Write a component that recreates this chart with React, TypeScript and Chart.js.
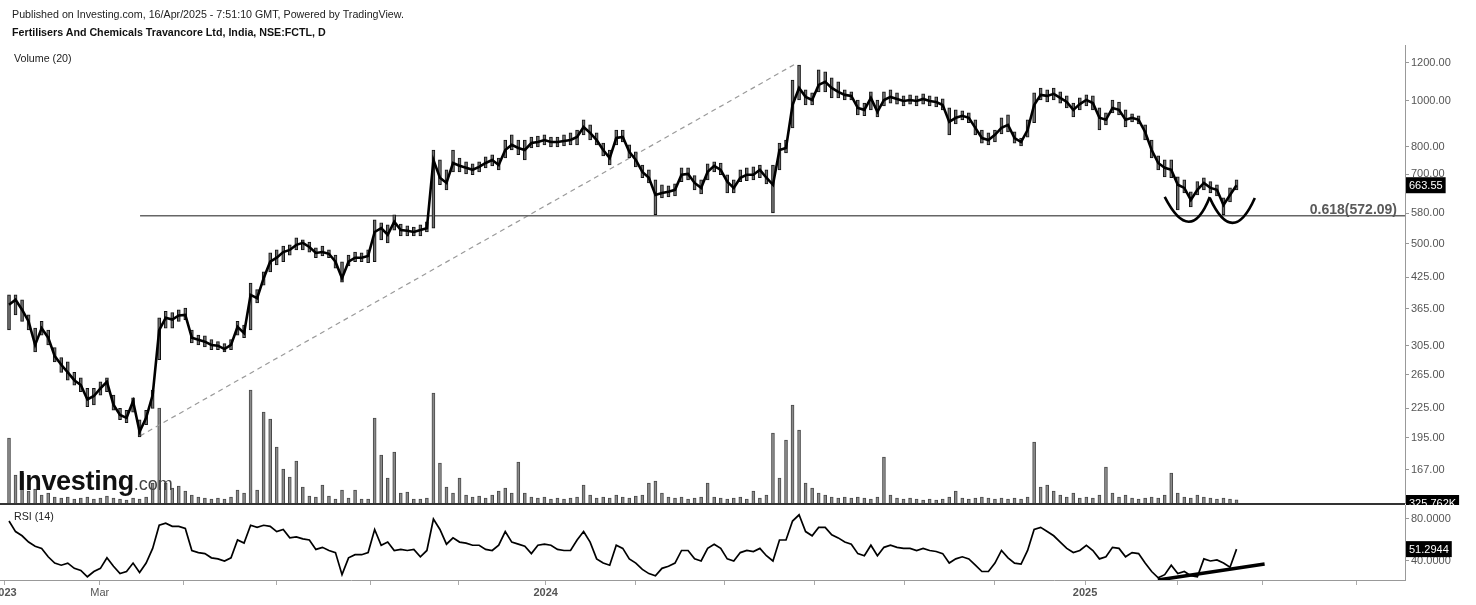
import React, { useEffect, useRef } from "react";
import { Chart, registerables } from "chart.js";

Chart.register(...registerables);

// ---------------- DATA (one sample = 3 trading days, Jan 2023 -> 16 Apr 2025) ----------------
const closes = [
  372, 381, 363, 343, 306, 332, 317, 290, 278, 268,
  258, 252, 235, 239, 248, 256, 229, 218, 215, 233,
  201, 215, 240, 329, 349, 346, 353, 354, 317, 314,
  311, 306, 305, 300, 306, 334, 324, 390, 384, 423,
  458, 467, 480, 485, 497, 502, 492, 478, 480, 476,
  458, 423, 458, 467, 467, 471, 529, 539, 522, 556,
  534, 532, 529, 534, 539, 750, 688, 671, 739, 729,
  722, 715, 725, 739, 750, 732, 787, 807, 795, 787,
  814, 818, 826, 818, 818, 822, 826, 838, 880, 855,
  826, 787, 757, 834, 838, 780, 750, 708, 688, 633,
  639, 643, 649, 698, 701, 671, 655, 708, 729, 715,
  675, 655, 688, 698, 698, 715, 688, 665, 787, 795,
  979, 1063, 1018, 1003, 1079, 1095, 1063, 1043, 1028, 1023,
  965, 956, 1013, 947, 1003, 1018, 1008, 998, 1003, 998,
  1008, 998, 993, 979, 902, 920, 929, 920, 876, 834,
  826, 847, 876, 889, 834, 818, 867, 979, 1028, 1023,
  1033, 1013, 993, 956, 983, 1003, 988, 920, 911, 965,
  956, 911, 920, 911, 859, 787, 739, 722, 715, 665,
  655, 618, 649, 671, 655, 649, 603, 633, 663.55,
];

const highs = [
  390, 390, 381, 354, 332, 343, 329, 302, 288, 282,
  268, 261, 248, 248, 256, 261, 240, 225, 223, 237,
  213, 223, 246, 349, 360, 358, 363, 366, 329, 321,
  320, 314, 311, 308, 314, 343, 337, 413, 400, 436,
  478, 485, 494, 497, 514, 509, 504, 490, 494, 485,
  473, 458, 473, 480, 478, 485, 561, 553, 548, 575,
  550, 545, 542, 548, 556, 787, 750, 715, 787, 757,
  743, 736, 743, 761, 769, 757, 826, 847, 826, 826,
  838, 842, 847, 838, 838, 847, 855, 867, 911, 889,
  855, 814, 787, 867, 867, 807, 780, 732, 715, 681,
  665, 662, 668, 722, 722, 695, 681, 736, 743, 739,
  698, 681, 715, 722, 725, 732, 715, 732, 814, 826,
  1105, 1188, 1053, 1038, 1160, 1149, 1116, 1095, 1053, 1043,
  1003, 988, 1043, 1003, 1043, 1053, 1038, 1023, 1028, 1023,
  1033, 1023, 1018, 1008, 965, 956, 951, 942, 911, 867,
  855, 867, 920, 933, 859, 834, 911, 1038, 1063, 1053,
  1063, 1043, 1023, 988, 1013, 1028, 1023, 965, 942, 1003,
  993, 956, 938, 929, 889, 826, 765, 750, 750, 691,
  681, 643, 675, 688, 675, 665, 624, 655, 681,
];

const lows = [
  329, 354, 343, 329, 296, 321, 306, 282, 268, 258,
  252, 244, 227, 229, 240, 244, 223, 213, 210, 221,
  196, 208, 225, 285, 332, 332, 343, 346, 309, 306,
  303, 299, 299, 296, 299, 321, 317, 329, 375, 409,
  436, 451, 458, 473, 485, 485, 480, 467, 471, 467,
  444, 415, 449, 458, 458, 456, 458, 509, 502, 534,
  519, 519, 519, 519, 529, 539, 665, 649, 708, 708,
  701, 698, 708, 722, 729, 715, 757, 787, 769, 750,
  795, 799, 807, 799, 799, 803, 807, 807, 847, 826,
  807, 765, 732, 807, 818, 757, 725, 688, 671, 575,
  624, 627, 630, 675, 681, 649, 636, 681, 708, 698,
  639, 639, 675, 678, 681, 688, 668, 580, 715, 776,
  876, 1003, 979, 979, 1043, 1043, 1013, 1013, 1003, 1003,
  933, 929, 956, 924, 974, 988, 983, 974, 983, 974,
  983, 974, 970, 956, 847, 893, 911, 898, 847, 814,
  807, 818, 851, 859, 814, 803, 838, 898, 1003, 993,
  1003, 988, 965, 924, 956, 974, 956, 867, 889, 942,
  933, 880, 902, 893, 826, 757, 715, 691, 688, 589,
  639, 597, 633, 649, 639, 630, 575, 612, 649,
];

// volume in millions of shares
const volumesM = [
  6.5, 2.8, 3.0, 1.2, 1.4, 0.8, 1.0, 0.6, 0.5, 0.6,
  0.4, 0.5, 0.6, 0.4, 0.5, 0.7, 0.5, 0.4, 0.3, 0.5,
  0.4, 0.6, 2.0, 9.5, 2.0, 1.5, 1.7, 1.2, 0.8, 0.6,
  0.5, 0.4, 0.5, 0.4, 0.6, 1.3, 1.0, 11.3, 1.3, 9.1,
  8.4, 5.6, 3.4, 2.6, 4.2, 1.6, 0.7, 0.6, 1.8, 0.7,
  0.4, 1.3, 0.5, 1.3, 0.4, 0.4, 8.5, 4.8, 2.5, 5.1,
  1.0, 1.1, 0.4, 0.4, 0.5, 11.0, 4.0, 1.6, 1.0, 2.5,
  0.8, 0.6, 0.7, 0.5, 0.8, 1.2, 1.5, 1.0, 4.1, 1.0,
  0.6, 0.5, 0.6, 0.4, 0.5, 0.4, 0.5, 0.6, 1.8, 0.8,
  0.5, 0.6, 0.5, 0.8, 0.6, 0.5, 0.7, 0.8, 2.0, 2.2,
  1.0, 0.6, 0.5, 0.6, 0.4, 0.5, 0.6, 2.0, 0.6, 0.5,
  0.4, 0.5, 0.6, 0.4, 1.2, 0.5, 0.8, 7.0, 2.5, 6.3,
  9.8, 7.3, 2.0, 1.5, 1.0, 0.8, 0.6, 0.5, 0.6, 0.5,
  0.6, 0.5, 0.4, 0.6, 4.6, 0.8, 0.5, 0.4, 0.5, 0.4,
  0.3, 0.4, 0.3, 0.4, 0.6, 1.2, 0.5, 0.4, 0.5, 0.6,
  0.5, 0.4, 0.5, 0.4, 0.5, 0.4, 0.6, 6.1, 1.6, 1.8,
  1.2, 0.8, 0.6, 1.0, 0.5, 0.6, 0.5, 0.8, 3.6, 1.0,
  0.6, 0.8, 0.5, 0.4, 0.5, 0.6, 0.5, 0.8, 3.0, 1.0,
  0.6, 0.5, 0.8, 0.6, 0.5, 0.4, 0.5, 0.4, 0.326,
];

const rsi = [
  78, 68, 64, 58, 54, 52, 44, 38, 36, 38,
  33, 31, 25, 30, 33, 43, 35, 28, 30, 38,
  29, 38, 52, 74, 76, 73, 73, 71, 50, 48,
  47, 43, 42, 40, 43, 60, 57, 74, 72, 74,
  73, 68, 70, 62, 63, 61, 60, 51, 53, 50,
  48, 27, 43, 46, 46, 48, 70, 55, 58, 50,
  51, 50, 51, 44, 50, 80, 70, 56, 62, 58,
  57, 55, 55, 51, 50, 55, 68, 58, 56, 54,
  47, 55, 56, 55, 51, 50, 50, 60, 68, 58,
  42, 38, 36, 55, 52, 42, 38, 32, 28, 26,
  33, 35, 38, 50, 50, 42, 40, 52, 56, 52,
  42, 40, 48, 50, 49, 52, 45, 40, 60, 60,
  78, 84, 68, 64, 72, 72, 65, 62, 58, 56,
  47, 45, 55, 45, 53, 55, 53, 52, 52, 50,
  52, 50, 49, 47, 38, 42, 44, 42, 36, 30,
  30, 38, 50, 43, 38, 37, 50, 70, 72, 68,
  64, 58, 52, 48, 50, 55, 50, 42, 44, 53,
  52, 44, 48, 47, 38, 30, 24, 27, 36, 28,
  30, 26, 25, 42, 40, 41, 38, 34, 51.2944,
];

// time axis (positions in sample units)
const xTickPositions = [-0.7, 13.9, 26.8, 41.0, 55.4, 68.8, 82.2, 95.9, 109.6, 123.4, 137.2, 151.0, 164.8, 178.9, 191.9, 206.3];
const xTickLabels = ["2023", "Mar", "", "", "", "", "2024", "", "", "", "", "", "2025", "", "", ""];
const X_MIN = -1.38;
const X_MAX = 213.8;

const priceTicks = [167, 195, 225, 265, 305, 365, 425, 500, 580, 700, 800, 1000, 1200];
const PRICE_MIN = 142.3;
const PRICE_MAX = 1309;
const VOL_MAX = 45.8;
const rsiTicks = [40, 80];
const RSI_MIN = 21.9;
const RSI_MAX = 93.3;

// drawings
const fibLevel = 572.09;
const fibLabel = "0.618(572.09)";
const fibStartX = 20.07;
const trendStart = { x: 20.07, y: 197 };
const trendEnd = { x: 120.7, y: 1200 };
const smileStartX = [177.0, 183.9];
const smileEndX = [183.9, 190.8];
const smileMidX = [180.9, 187.4];
const smileEdgePrice = [627, 624];
const smileBottomPrice = [556, 553];
const rsiTrendStart = { x: 175.95, y: 21.9 };
const rsiTrendEnd = { x: 192.3, y: 37.1 };
const lastVolumeText = "325.762K";

const FONT = '"Liberation Sans", Arial, sans-serif';
const AXIS_W = 71;

function tagBox(ctx: CanvasRenderingContext2D, x: number, y: number, text: string) {
  ctx.save();
  ctx.font = `11px ${FONT}`;
  const w = ctx.measureText(text).width + 6;
  ctx.fillStyle = "#000";
  ctx.fillRect(x, y - 8, w, 16);
  ctx.fillStyle = "#fff";
  ctx.textBaseline = "middle";
  ctx.textAlign = "left";
  ctx.fillText(text, x + 3, y + 0.5);
  ctx.restore();
}

export default function App() {
  const refA = useRef<HTMLCanvasElement>(null);
  const refB = useRef<HTMLCanvasElement>(null);

  useEffect(() => {
    const idx = closes.map((_, i) => i);

    const pricePlugin = {
      id: "priceDrawings",
      afterDatasetsDraw(chart: any) {
        const { ctx, scales, chartArea } = chart;
        const x = scales.x;
        const y = scales.y;
        ctx.save();
        const fy = y.getPixelForValue(fibLevel);
        ctx.font = `bold 14px ${FONT}`;
        ctx.fillStyle = "#5a5a5a";
        ctx.textAlign = "right";
        ctx.textBaseline = "alphabetic";
        ctx.fillText(fibLabel, chartArea.right - 8, fy - 2);
        ctx.strokeStyle = "#000";
        ctx.lineWidth = 2.6;
        for (let k = 0; k < smileStartX.length; k++) {
          const x0 = x.getPixelForValue(smileStartX[k]);
          const x2 = x.getPixelForValue(smileEndX[k]);
          const xm = x.getPixelForValue(smileMidX[k]);
          const ye = y.getPixelForValue(smileEdgePrice[k]);
          const yb = y.getPixelForValue(smileBottomPrice[k]);
          const cy = 2 * yb - ye;
          ctx.beginPath();
          ctx.moveTo(x0, ye);
          ctx.quadraticCurveTo(xm, cy, x2, ye);
          ctx.stroke();
        }
        ctx.restore();
      },
      afterDraw(chart: any) {
        const { ctx, scales, chartArea } = chart;
        ctx.save();
        ctx.fillStyle = "#333";
        ctx.fillRect(0, chartArea.bottom, chartArea.right, 2);
        ctx.restore();
        tagBox(ctx, chartArea.right + 1, scales.y.getPixelForValue(closes[closes.length - 1]), closes[closes.length - 1].toFixed(2));
        tagBox(ctx, chartArea.right + 1, chartArea.bottom, lastVolumeText);
      },
    };

    const a = new Chart(refA.current as HTMLCanvasElement, {
      type: "bar",
      data: {
        datasets: [
          {
            type: "bar",
            label: "Volume",
            data: volumesM.map((v, i) => ({ x: idx[i], y: v })),
            yAxisID: "yv",
            backgroundColor: "#8a8a8a",
            borderColor: "#4a4a4a",
            borderWidth: 1,
            barThickness: 3,
            grouped: false,
            order: 6,
          } as any,
          {
            type: "line",
            label: "Trend",
            data: [trendStart, trendEnd],
            yAxisID: "y",
            borderColor: "#9a9a9a",
            borderDash: [5, 4],
            borderWidth: 1.2,
            pointRadius: 0,
            order: 5,
          },
          {
            type: "line",
            label: "Fib 0.618",
            data: [
              { x: fibStartX, y: fibLevel },
              { x: X_MAX, y: fibLevel },
            ],
            yAxisID: "y",
            borderColor: "#666",
            borderWidth: 1.5,
            pointRadius: 0,
            order: 4,
          },
          {
            type: "bar",
            label: "Range",
            data: lows.map((l, i) => ({ x: idx[i], y: [l, highs[i]] })),
            yAxisID: "y",
            backgroundColor: "#6e6e6e",
            borderColor: "#111",
            borderWidth: { left: 1, right: 1, top: 1, bottom: 1 },
            borderSkipped: false,
            barThickness: 3,
            grouped: false,
            order: 3,
          } as any,
          {
            type: "line",
            label: "Close",
            data: closes.map((c, i) => ({ x: idx[i], y: c })),
            yAxisID: "y",
            borderColor: "#000",
            borderWidth: 2.6,
            pointRadius: 0,
            tension: 0,
            order: 1,
          },
        ],
      },
      options: {
        responsive: false,
        animation: false,
        events: [],
        layout: { padding: { top: 45, bottom: 2, left: 0, right: 0 } },
        plugins: { legend: { display: false }, tooltip: { enabled: false } },
        scales: {
          x: { type: "linear", min: X_MIN, max: X_MAX, display: false, offset: false },
          y: {
            type: "logarithmic",
            position: "right",
            min: PRICE_MIN,
            max: PRICE_MAX,
            afterBuildTicks: (s: any) => {
              s.ticks = priceTicks.map((v) => ({ value: v }));
            },
            afterFit: (s: any) => {
              s.width = AXIS_W;
              s.paddingTop = 0;
              s.paddingBottom = 0;
            },
            ticks: {
              autoSkip: false,
              padding: 2,
              color: "#555",
              font: { size: 11, family: FONT },
              callback: (v: any) => Number(v).toFixed(2),
            },
            grid: { drawOnChartArea: false, drawTicks: true, tickLength: 4, color: "#999" },
            border: { display: true, color: "#999" },
          },
          yv: { type: "linear", min: 0, max: VOL_MAX, display: false },
        },
      } as any,
      plugins: [pricePlugin],
    });

    const rsiPlugin = {
      id: "rsiDrawings",
      afterDraw(chart: any) {
        const { ctx, scales, chartArea } = chart;
        tagBox(ctx, chartArea.right + 1, scales.y.getPixelForValue(rsi[rsi.length - 1]), rsi[rsi.length - 1].toFixed(4));
      },
    };

    const b = new Chart(refB.current as HTMLCanvasElement, {
      type: "line",
      data: {
        datasets: [
          {
            label: "RSI (14)",
            data: rsi.map((v, i) => ({ x: idx[i], y: v })),
            borderColor: "#000",
            borderWidth: 1.7,
            pointRadius: 0,
            tension: 0,
            order: 2,
          },
          {
            label: "RSI trend",
            data: [rsiTrendStart, rsiTrendEnd],
            borderColor: "#000",
            borderWidth: 3.5,
            pointRadius: 0,
            order: 1,
          },
        ],
      },
      options: {
        responsive: false,
        animation: false,
        events: [],
        layout: { padding: { top: 0, bottom: 0, left: 0, right: 0 } },
        plugins: { legend: { display: false }, tooltip: { enabled: false } },
        scales: {
          x: {
            type: "linear",
            min: X_MIN,
            max: X_MAX,
            offset: false,
            afterBuildTicks: (s: any) => {
              s.ticks = xTickPositions.map((v) => ({ value: v }));
            },
            afterFit: (s: any) => {
              s.height = 25;
              s.paddingLeft = 0;
              s.paddingRight = 0;
            },
            ticks: {
              autoSkip: false,
              maxRotation: 0,
              padding: 1,
              color: "#555",
              font: (c: any) => ({
                size: 11,
                family: FONT,
                weight: /^\d{4}$/.test(xTickLabels[c.index] || "") ? "bold" : "normal",
              }),
              callback: (_v: any, i: number) => xTickLabels[i],
            },
            grid: { drawOnChartArea: false, drawTicks: true, tickLength: 5, color: "#aaa" },
            border: { display: true, color: "#999" },
          },
          y: {
            type: "linear",
            position: "right",
            min: RSI_MIN,
            max: RSI_MAX,
            afterBuildTicks: (s: any) => {
              s.ticks = rsiTicks.map((v) => ({ value: v }));
            },
            afterFit: (s: any) => {
              s.width = AXIS_W;
              s.paddingTop = 0;
              s.paddingBottom = 0;
            },
            ticks: {
              autoSkip: false,
              padding: 2,
              color: "#555",
              font: { size: 11, family: FONT },
              callback: (v: any) => Number(v).toFixed(4),
            },
            grid: { drawOnChartArea: false, drawTicks: true, tickLength: 4, color: "#999" },
            border: { display: true, color: "#999" },
          },
        },
      } as any,
      plugins: [rsiPlugin],
    });

    return () => {
      a.destroy();
      b.destroy();
    };
  }, []);

  const txt: React.CSSProperties = {
    position: "absolute",
    fontFamily: FONT,
    fontSize: 10.7,
    color: "#222",
    whiteSpace: "nowrap",
    lineHeight: "13px",
  };

  return (
    <div
      style={{
        position: "fixed",
        left: 0,
        top: 0,
        width: 1476,
        height: 605,
        background: "#fff",
        overflow: "hidden",
      }}
    >
      <canvas ref={refA} width={1476} height={505} style={{ position: "absolute", left: 0, top: 0 }} />
      <canvas ref={refB} width={1476} height={100} style={{ position: "absolute", left: 0, top: 505 }} />
      <div style={{ ...txt, left: 12, top: 8 }}>
        Published on Investing.com, 16/Apr/2025 - 7:51:10 GMT, Powered by TradingView.
      </div>
      <div style={{ ...txt, left: 12, top: 26, fontWeight: "bold", color: "#111" }}>
        Fertilisers And Chemicals Travancore Ltd, India, NSE:FCTL, D
      </div>
      <div style={{ ...txt, left: 14, top: 52 }}>Volume (20)</div>
      <div style={{ ...txt, left: 14, top: 510 }}>RSI (14)</div>
      <div style={{ ...txt, left: 18, top: 468, lineHeight: "26px" }}>
        <span style={{ fontSize: 27, fontWeight: "bold", color: "#111", letterSpacing: -0.3 }}>Investing</span>
        <span style={{ fontSize: 18, color: "#444" }}>.com</span>
      </div>
    </div>
  );
}
